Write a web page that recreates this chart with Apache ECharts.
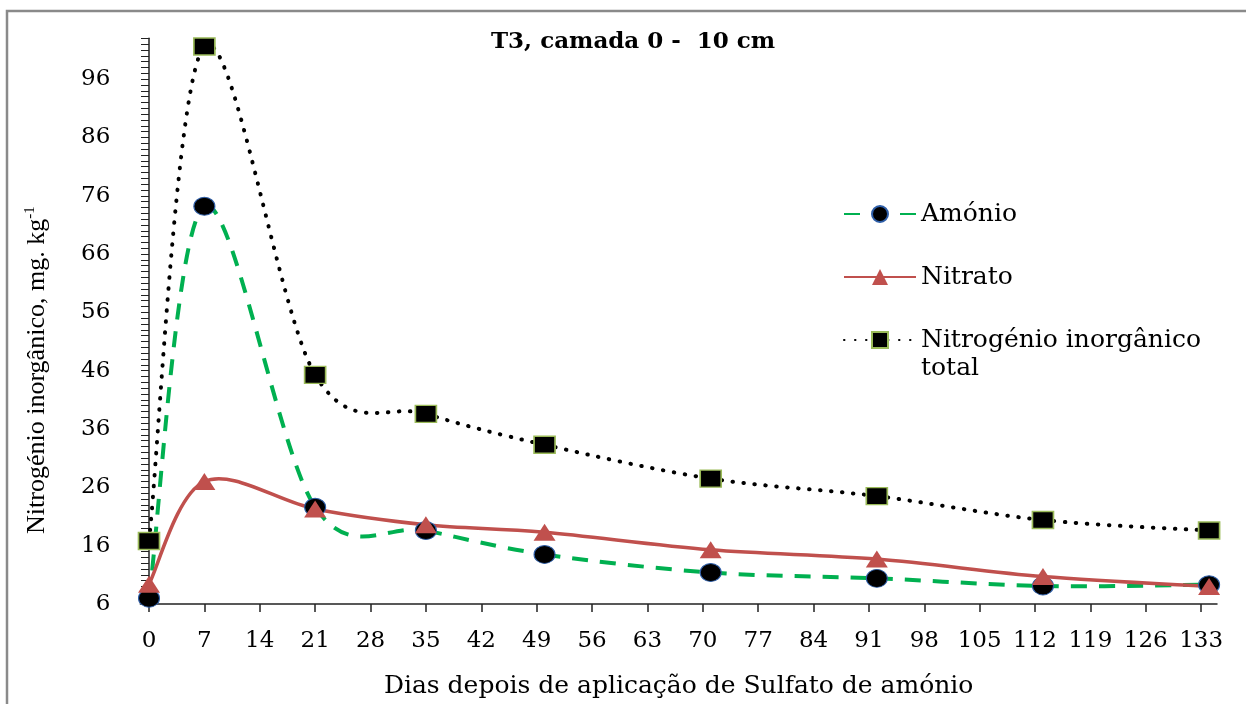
<!DOCTYPE html>
<html>
<head>
<meta charset="utf-8">
<script src="https://cdn.jsdelivr.net/npm/echarts@6.0.0/dist/echarts.min.js"></script>
<style>
  html, body { margin: 0; padding: 0; background: #fff; }
  #chart { width: 1246px; height: 704px; }
</style>
</head>
<body>
<div id="chart"></div>
<script>
// dias depois da aplicação
var dias = [0, 7, 21, 35, 50, 71, 92, 113, 134];
var amonio = [7.0, 74.2, 22.6, 18.6, 14.5, 11.4, 10.4, 9.1, 9.3];
var nitrato = [9.4, 27.0, 22.3, 19.6, 18.3, 15.3, 13.7, 10.7, 9.0];
var total = [16.8, 101.6, 45.3, 38.6, 33.3, 27.5, 24.5, 20.4, 18.6];

var xTicks = [0, 7, 14, 21, 28, 35, 42, 49, 56, 63, 70, 77, 84, 91, 98, 105, 112, 119, 126, 133];
var yTicks = [6, 16, 26, 36, 46, 56, 66, 76, 86, 96];

var fonte = 'DejaVu Serif';

function pares(ys) {
    return dias.map(function (d, i) { return [d, ys[i]]; });
}

// curva suavizada tipo Excel (Catmull-Rom, tangente /6)
function curva(ys, estilo) {
    return function (params, api) {
        if (params.dataIndex !== 0) return null;
        var n = dias.length;
        var filhos = [];
        for (var i = 0; i < n - 1; i++) {
            var a = i > 0 ? i - 1 : i;
            var b = i + 2 < n ? i + 2 : i + 1;
            var c1 = [dias[i] + (dias[i + 1] - dias[a]) / 6, ys[i] + (ys[i + 1] - ys[a]) / 6];
            var c2 = [dias[i + 1] - (dias[b] - dias[i]) / 6, ys[i + 1] - (ys[b] - ys[i]) / 6];
            var p0 = api.coord([dias[i], ys[i]]);
            var p1 = api.coord([dias[i + 1], ys[i + 1]]);
            var q1 = api.coord(c1);
            var q2 = api.coord(c2);
            filhos.push({
                type: 'bezierCurve',
                shape: { x1: p0[0], y1: p0[1], x2: p1[0], y2: p1[1], cpx1: q1[0], cpy1: q1[1], cpx2: q2[0], cpy2: q2[1] },
                style: estilo
            });
        }
        return { type: 'group', children: filhos };
    };
}

function legenda(nome, top, fmt) {
    return {
        data: [nome],
        orient: 'vertical',
        left: 843,
        top: top,
        padding: 0,
        itemWidth: 72,
        itemHeight: 20,
        itemGap: 0,
        formatter: fmt,
        lineStyle: { opacity: 1 },
        textStyle: { fontFamily: fonte, fontSize: 25, lineHeight: 28, color: '#000' }
    };
}

var myChart = echarts.init(document.getElementById('chart'));

var option = {
    animation: false,
    backgroundColor: '#fff',
    title: {
        text: 'T3, camada 0 -  10 cm',
        left: 491,
        top: 31,
        padding: 0,
        textStyle: { fontFamily: fonte, fontSize: 23, fontWeight: 'bold', color: '#000' }
    },
    graphic: [{
        type: 'rect',
        shape: { x: 7, y: 11, width: 1400, height: 900 },
        style: { fill: null, stroke: '#8a8a8a', lineWidth: 2.5 },
        silent: true,
        z: -1
    }],
    legend: [
        legenda('Amónio', 200, '{name}'),
        legenda('Nitrato', 263, '{name}'),
        legenda('Nitrogénio inorgânico\ntotal', 298, '\n{name}')
    ],
    grid: { left: 140.3, right: 29, top: 38.3, bottom: 98.3 },
    xAxis: {
        type: 'value',
        min: -1.1,
        max: 135,
        name: 'Dias depois de aplicação de Sulfato de amónio',
        nameLocation: 'middle',
        nameGap: 70,
        nameTextStyle: { fontFamily: fonte, fontSize: 25, color: '#000' },
        splitLine: { show: false },
        axisLine: { lineStyle: { color: '#222', width: 1.5 } },
        axisTick: { customValues: xTicks, length: 8, lineStyle: { color: '#222', width: 1.5 } },
        axisLabel: { customValues: xTicks, margin: 26, fontFamily: fonte, fontSize: 23, color: '#000' }
    },
    yAxis: {
        type: 'value',
        min: 6,
        max: 103,
        interval: 1,
        name: 'Nitrogénio inorgânico, mg. kg{sup|-1}',
        nameLocation: 'middle',
        nameRotate: 90,
        nameGap: 88,
        nameTextStyle: {
            fontFamily: 'Liberation Serif',
            fontSize: 26,
            lineHeight: 30,
            color: '#000',
            padding: [0, 98, 0, 0],
            rich: {
                sup: { fontFamily: 'Liberation Serif', fontSize: 15, lineHeight: 15, verticalAlign: 'top', color: '#000' }
            }
        },
        splitLine: { show: false },
        axisLine: { onZero: true, lineStyle: { color: '#222', width: 1.5 } },
        axisTick: { length: 8, lineStyle: { color: '#222', width: 1 } },
        axisLabel: { customValues: yTicks, margin: 30, fontFamily: fonte, fontSize: 23, color: '#000' }
    },
    series: [{
        name: 'curva amonio',
        type: 'custom',
        data: pares(amonio),
        renderItem: curva(amonio, { fill: 'none', stroke: '#00b050', lineWidth: 4, lineDash: [16, 12] }),
        silent: true
    }, {
        name: 'curva nitrato',
        type: 'custom',
        data: pares(nitrato),
        renderItem: curva(nitrato, { fill: 'none', stroke: '#c0504d', lineWidth: 3.5 }),
        silent: true
    }, {
        name: 'curva total',
        type: 'custom',
        data: pares(total),
        renderItem: curva(total, { fill: 'none', stroke: '#000', lineWidth: 4, lineDash: [0.5, 10.5], lineCap: 'round' }),
        silent: true
    }, {
        name: 'Amónio',
        type: 'line',
        data: pares(amonio),
        symbol: 'circle',
        symbolSize: [21, 18],
        lineStyle: { color: '#00b050', width: 4, type: [16, 12], opacity: 0 },
        itemStyle: { color: '#000', borderColor: '#2e5ea8', borderWidth: 1 }
    }, {
        name: 'Nitrato',
        type: 'line',
        data: pares(nitrato),
        symbol: 'triangle',
        symbolSize: [22, 17],
        lineStyle: { color: '#c0504d', width: 3.5, opacity: 0 },
        itemStyle: { color: '#c0504d' }
    }, {
        name: 'Nitrogénio inorgânico\ntotal',
        type: 'line',
        data: pares(total),
        symbol: 'rect',
        symbolSize: [21, 17],
        lineStyle: { color: '#000', width: 4, type: [0.5, 10.5], cap: 'round', opacity: 0 },
        itemStyle: { color: '#000', borderColor: '#9bbb59', borderWidth: 1.5 }
    }]
};

myChart.setOption(option);
</script>
</body>
</html>
